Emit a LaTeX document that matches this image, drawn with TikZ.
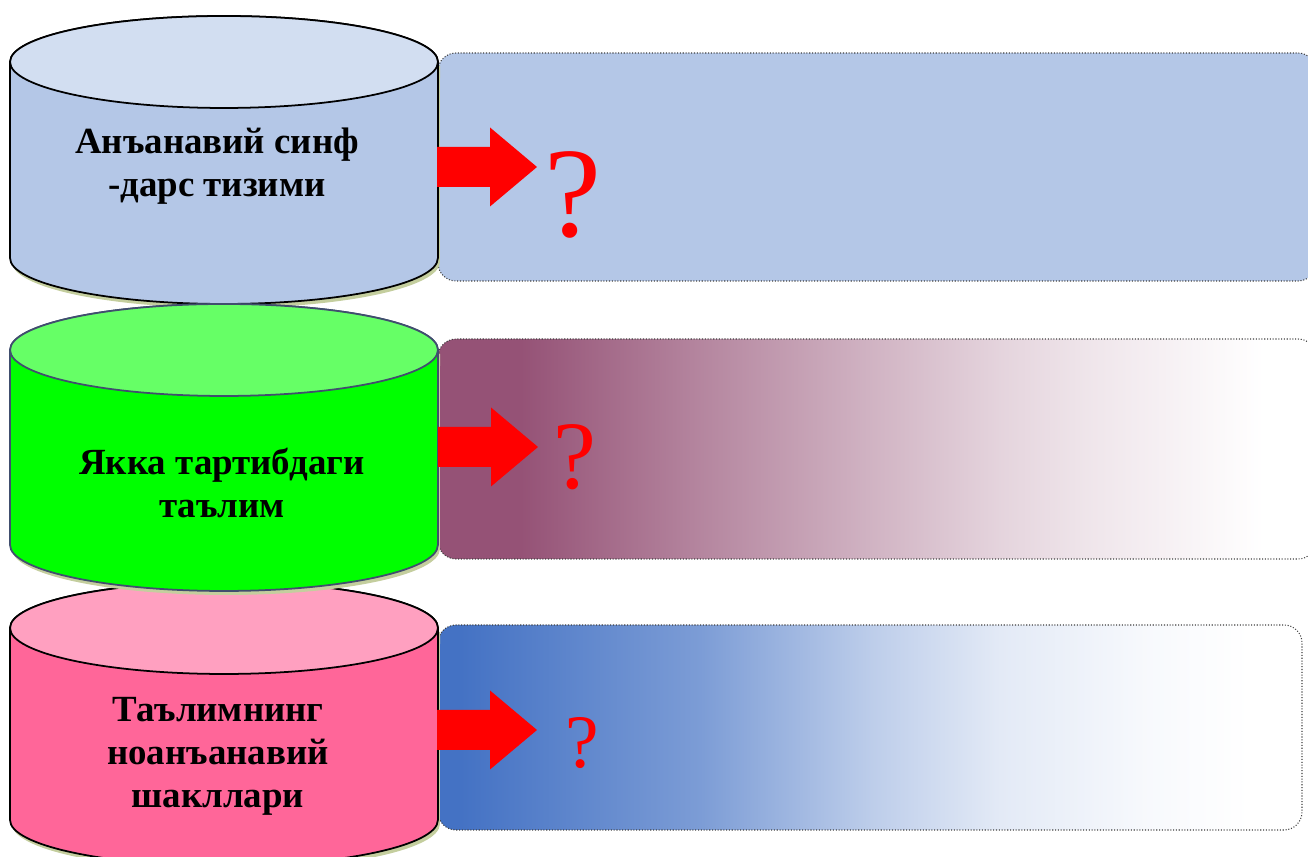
\documentclass[tikz,border=0pt]{standalone}
\usepackage{fontspec}
\setmainfont{Liberation Serif}

\definecolor{cylblue}{RGB}{180,199,231}
\definecolor{cyltopblue}{RGB}{210,222,241}
\definecolor{cylgreen}{RGB}{0,255,0}
\definecolor{cyltopgreen}{RGB}{102,255,102}
\definecolor{cylgreenline}{RGB}{64,78,110}
\definecolor{cylpink}{RGB}{255,102,153}
\definecolor{cyltoppink}{RGB}{255,160,192}
\definecolor{shadowolive}{RGB}{196,206,158}
\definecolor{boxmauve}{RGB}{149,82,118}
\definecolor{boxdeepblue}{RGB}{68,114,196}

\pgfdeclarehorizontalshading{mauvefade}{100bp}{color(0bp)=(boxmauve); color(29.7bp)=(boxmauve); color(40bp)=(boxmauve!70); color(50bp)=(boxmauve!43); color(57bp)=(boxmauve!25); color(62bp)=(boxmauve!15); color(72bp)=(white); color(100bp)=(white)}
\pgfdeclarehorizontalshading{bluefade}{100bp}{color(0bp)=(boxdeepblue); color(26.3bp)=(boxdeepblue); color(40.2bp)=(boxdeepblue!70); color(50.2bp)=(boxdeepblue!35); color(57.5bp)=(boxdeepblue!15); color(66.2bp)=(boxdeepblue!4); color(72bp)=(white); color(100bp)=(white)}

\begin{document}
\begin{tikzpicture}[x=0.02cm, y=0.02cm]
    \newcommand{\cylL}{10}   % left side of the cylinders
    \newcommand{\cylR}{438}  % right side of the cylinders
    \newcommand{\cylM}{224}
    \newcommand{\boxL}{438}

    % styles
    \tikzset{
        cylrad/.style={x radius=4.28cm, y radius=0.92cm}, % radii of the ellipses
        cylbody/.style={line width=1pt},
        cylshadow/.style={fill=shadowolive, xshift=0.04cm, yshift=-0.08cm},
        textbox/.style={
            densely dotted,
            draw=black!75,
            line width=0.6pt,
            rounded corners=0.36cm
            },
        blockarrow/.style={fill=red},
        cyltext/.style={align=center, font=\bfseries\fontsize{21}{24.5}\selectfont},
        qmark/.style={text=red, inner sep=0pt, anchor=base}
    }

    \useasboundingbox (0,0) rectangle (1308,857);

    % boxes
    \filldraw[textbox, fill=cylblue] (\boxL,576) rectangle (1316,804);
    \shadedraw[textbox, shading=mauvefade] (\boxL,298) rectangle (1316,518);
    \shadedraw[textbox, shading=bluefade] (\boxL,27) rectangle (1302,232);

    % top cylinder
    \fill[cylshadow] (\cylL,795) -- (\cylL,599) arc[cylrad, start angle=180, end angle=360] -- (\cylR,795) -- cycle;
    \filldraw[cylbody, fill=cylblue] (\cylL,795) -- (\cylL,599) arc[cylrad, start angle=180, end angle=360] -- (\cylR,795) arc[cylrad, start angle=0, end angle=180] -- cycle;
    \filldraw[cylbody, fill=cyltopblue] (\cylM,795) ellipse[cylrad];

    % bottom cylinder
    \fill[cylshadow] (\cylL,229) -- (\cylL,37) arc[cylrad, start angle=180, end angle=360] -- (\cylR,229) -- cycle;
    \filldraw[cylbody, fill=cylpink] (\cylL,229) -- (\cylL,37) arc[cylrad, start angle=180, end angle=360] -- (\cylR,229) arc[cylrad, start angle=0, end angle=180] -- cycle;
    \filldraw[cylbody, fill=cyltoppink] (\cylM,229) ellipse[cylrad];

    % middle cylinder, over the bottom one
    \fill[cylshadow] (\cylL,507) -- (\cylL,312) arc[cylrad, start angle=180, end angle=360] -- (\cylR,507) -- cycle;
    \filldraw[cylbody, draw=cylgreenline, fill=cylgreen] (\cylL,507) -- (\cylL,312) arc[cylrad, start angle=180, end angle=360] -- (\cylR,507) arc[cylrad, start angle=0, end angle=180] -- cycle;
    \filldraw[cylbody, draw=cylgreenline, fill=cyltopgreen] (\cylM,507) ellipse[cylrad];

    % arrows
    \fill[blockarrow] (437,690) ++(0,20) -- ++(53,0) -- ++(0,19.5) -- ++(47,-39.5) -- ++(-47,-39.5) -- ++(0,19.5) -- ++(-53,0) -- cycle;
    \fill[blockarrow] (438,410) ++(0,20) -- ++(53,0) -- ++(0,19.5) -- ++(47,-39.5) -- ++(-47,-39.5) -- ++(0,19.5) -- ++(-53,0) -- cycle;
    \fill[blockarrow] (437,127) ++(0,20) -- ++(53,0) -- ++(0,19.5) -- ++(47,-39.5) -- ++(-47,-39.5) -- ++(0,19.5) -- ++(-53,0) -- cycle;

    % labels
    \node[cyltext] (trad) at (217,691) {Анъанавий синф\\-дарс тизими};
    \node[cyltext] (indiv) at (222,374) {Якка тартибдаги\\таълим};
    \node[cyltext] (nontrad) at (218,101) {Таълимнинг\\ноанъанавий\\шакллари};

    \node[qmark, font=\fontsize{73}{73}\selectfont] (q1) at (573,620) {?};
    \node[qmark, font=\fontsize{55}{55}\selectfont] (q2) at (575,368) {?};
    \node[qmark, font=\fontsize{43}{43}\selectfont] (q3) at (582,89) {?};
\end{tikzpicture}
\end{document}
